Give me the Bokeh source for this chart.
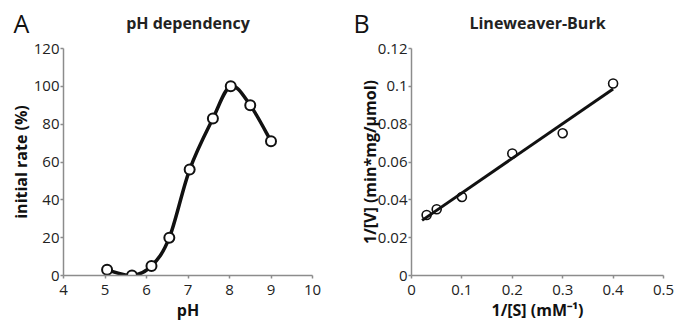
import numpy as np
from bokeh.plotting import figure
from bokeh.layouts import row, column
from bokeh.models import Range1d, FixedTicker, CustomJSTickFormatter, Label
from bokeh.embed import file_html
from bokeh.resources import INLINE

# ---- data ----
ph = [5.05, 5.65, 6.12, 6.55, 7.04, 7.6, 8.03, 8.5, 9.0]
rate = [3, 0, 5, 20, 56, 83, 100, 90, 71]
ph_ticks = [4, 5, 6, 7, 8, 9, 10]
rate_ticks = [0, 20, 40, 60, 80, 100, 120]

inv_s = [0.03, 0.05, 0.1, 0.2, 0.3, 0.4]
inv_v = [0.032, 0.035, 0.0415, 0.0645, 0.0752, 0.1015]
fit_x = [0.021, 0.4]
s_ticks = [0, 0.1, 0.2, 0.3, 0.4, 0.5]
v_ticks = [0, 0.02, 0.04, 0.06, 0.08, 0.1, 0.12]

FONT = "Open Sans"
AXIS_GRAY = "#8c8c8c"
HEADER_H = 38
fmt = CustomJSTickFormatter(code="return Number(tick.toFixed(4)).toString();")


def style(p, xt, yt, ylab_standoff):
    p.xgrid.visible = False
    p.ygrid.visible = False
    p.outline_line_color = None
    p.xaxis.ticker = FixedTicker(ticks=xt)
    p.yaxis.ticker = FixedTicker(ticks=yt)
    for ax in (p.xaxis[0], p.yaxis[0]):
        ax.formatter = fmt
        ax.axis_line_color = AXIS_GRAY
        ax.axis_line_width = 1.5
        ax.major_tick_line_color = AXIS_GRAY
        ax.major_tick_line_width = 1.5
        ax.major_tick_in = 0
        ax.major_tick_out = 3
        ax.minor_tick_line_color = None
        ax.major_label_text_font = FONT
        ax.major_label_text_font_size = "15px"
        ax.major_label_text_color = "#222222"
        ax.axis_label_text_font = FONT
        ax.axis_label_text_font_size = "16px"
        ax.axis_label_text_font_style = "bold"
        ax.axis_label_text_color = "#111111"
    p.xaxis.major_label_standoff = 6
    p.xaxis.axis_label_standoff = 1
    p.yaxis.major_label_standoff = 1
    p.yaxis.axis_label_standoff = ylab_standoff


def header(width, letter, letter_x, title, title_x):
    h = figure(width=width, height=HEADER_H, output_backend="svg",
               toolbar_location=None, x_axis_type=None, y_axis_type=None,
               x_range=Range1d(0, 1), y_range=Range1d(0, 1),
               min_border_left=0, min_border_right=0, min_border_top=0,
               min_border_bottom=0, frame_align=False)
    h.outline_line_color = None
    h.xgrid.visible = False
    h.ygrid.visible = False
    h.add_layout(Label(x=letter_x, y=16, x_units="screen",
                       y_units="screen", text=letter, text_font=FONT,
                       text_font_size="25px", text_color="#111111",
                       text_baseline="alphabetic"))
    h.add_layout(Label(x=title_x, y=16, x_units="screen",
                       y_units="screen", text=title, text_font=FONT,
                       text_font_size="16px", text_font_style="bold",
                       text_color="#222222", text_align="center",
                       text_baseline="alphabetic"))
    return h


# ---- panel A ----
pa = figure(width=338, height=324 - HEADER_H, output_backend="svg",
            toolbar_location=None, frame_align=False,
            x_range=Range1d(4, 10), y_range=Range1d(0, 120),
            min_border_left=63, min_border_right=26, min_border_top=10,
            min_border_bottom=49)
style(pa, ph_ticks, rate_ticks, -1)
pa.xaxis.axis_label = "pH"
pa.yaxis.axis_label = "initial rate (%)"

# smoothed line (Catmull-Rom style bezier through the points)
X = np.array(ph, dtype=float)
Y = np.array(rate, dtype=float)
Xp = np.concatenate([[X[0]], X, [X[-1]]])
Yp = np.concatenate([[Y[0]], Y, [Y[-1]]])
n = len(X)
x0, y0 = X[:-1], Y[:-1]
x1, y1 = X[1:], Y[1:]
cx0 = X[:-1] + (Xp[2:n + 1] - Xp[0:n - 1]) / 6
cy0 = Y[:-1] + (Yp[2:n + 1] - Yp[0:n - 1]) / 6
cx1 = X[1:] - (Xp[3:n + 2] - Xp[1:n]) / 6
cy1 = Y[1:] - (Yp[3:n + 2] - Yp[1:n]) / 6
pa.bezier(x0=x0, y0=y0, x1=x1, y1=y1, cx0=cx0, cy0=cy0, cx1=cx1, cy1=cy1,
          line_color="#111111", line_width=3.5)
pa.scatter(ph, rate, size=10, fill_color="white", line_color="#111111",
           line_width=2)
ha = header(338, "A", 13, "pH dependency", 187.5)

# ---- panel B ----
pb = figure(width=340, height=324 - HEADER_H, output_backend="svg",
            toolbar_location=None, frame_align=False,
            x_range=Range1d(0, 0.5), y_range=Range1d(0, 0.12),
            min_border_left=73, min_border_right=15, min_border_top=10,
            min_border_bottom=49)
style(pb, s_ticks, v_ticks, -6)
pb.xaxis.axis_label = "1/[S] (mM⁻¹)"
pb.yaxis.axis_label = "1/[V] (min*mg/µmol)"

pb.scatter(inv_s, inv_v, size=9, fill_color="white", line_color="#111111",
           line_width=1.6)
slope, intercept = np.polyfit(inv_s, inv_v, 1)
fx = np.array(fit_x)
pb.line(fx, slope * fx + intercept, line_color="#111111", line_width=3)
hb = header(340, "B", 15, "Lineweaver-Burk", 199)

layout = row(column(ha, pa), column(hb, pb))
open("out.html", "w").write(file_html(layout, INLINE))
